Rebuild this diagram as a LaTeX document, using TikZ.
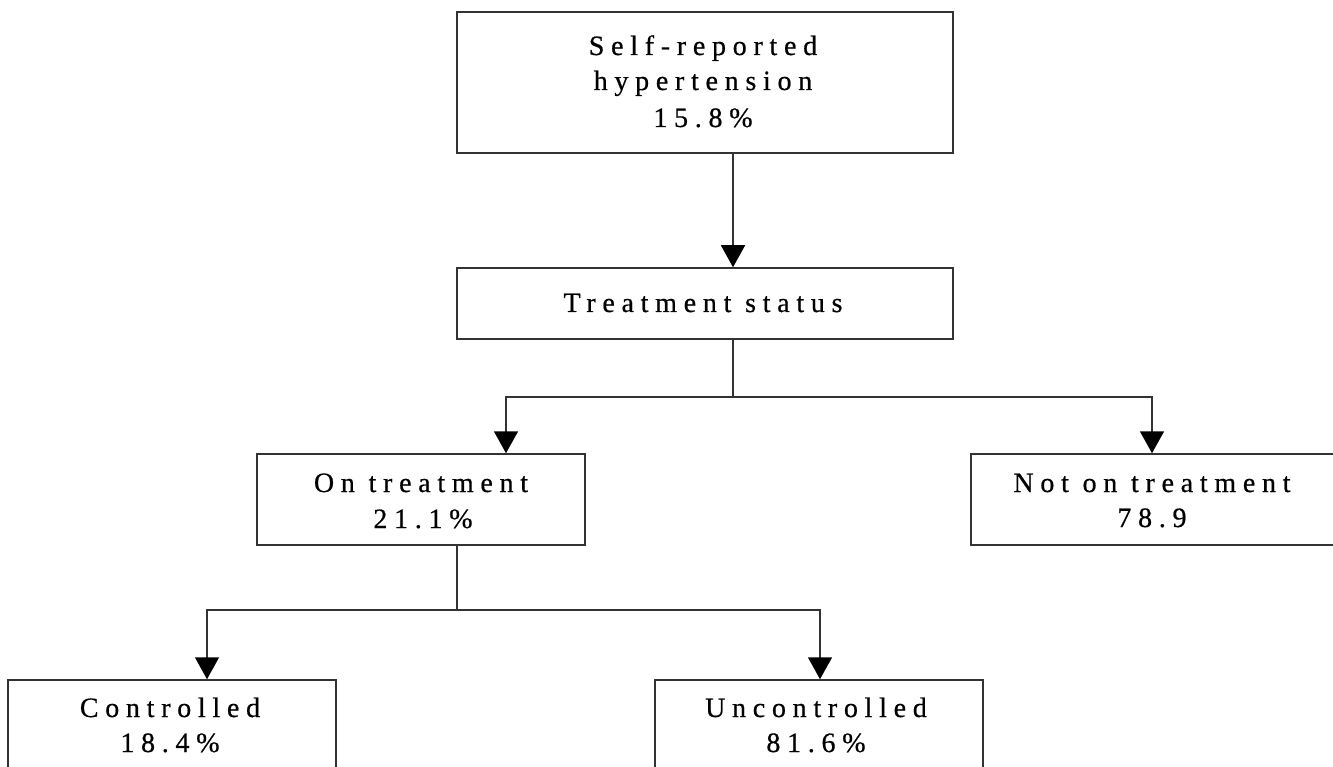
\documentclass[tikz,border=0pt]{standalone}
\usepackage{fontspec}
\setmainfont{Liberation Serif}[LetterSpace=24,FakeBold=0.6]
\usetikzlibrary{arrows.meta}
\begin{document}
\begin{tikzpicture}[x=1pt,y=-1pt,
  box/.style={draw=black!80,line width=1.5pt,inner sep=0pt},
  txt/.style={anchor=base,inner sep=0pt,font=\fontsize{28}{36}\selectfont},
  conn/.style={draw=black!80,line width=1.5pt},
  arr/.style={conn,-{Triangle[width=24pt,length=22pt,black]}}]
\useasboundingbox (0,0) rectangle (1333,767);
\clip (0,0) rectangle (1333,767);
% boxes
\node[box,minimum width=496pt,minimum height=141pt] (top) at (705,82.5) {};
\node[box,minimum width=496pt,minimum height=71pt] (ts) at (705,303.5) {};
\node[box,minimum width=328pt,minimum height=91pt] (on) at (421,499.5) {};
\node[box,minimum width=372pt,minimum height=91pt] (non) at (1157,499.5) {};
\node[box,minimum width=328pt,minimum height=120pt] (ctl) at (172,740) {};
\node[box,minimum width=328pt,minimum height=120pt] (unc) at (819,740) {};
% texts
\node[txt] (t1) at (703,55) {Self-reported};
\node[txt] (t2) at (703,90) {hypertension};
\node[txt] (t3) at (703,127) {15.8\%};
\node[txt] (t4) at (703,312) {Treatment status};
\node[txt] (t5) at (421,492) {On treatment};
\node[txt] (t6) at (423,528) {21.1\%};
\node[txt] (t7) at (1152,492) {Not on treatment};
\node[txt] (t8) at (1152,527) {78.9};
\node[txt] (t9) at (170,717) {Controlled};
\node[txt] (t10) at (170,752) {18.4\%};
\node[txt] (t11) at (816,717) {Uncontrolled};
\node[txt] (t12) at (816,752) {81.6\%};
% connectors
\draw[arr] ([xshift=28pt]top.south) -- ([xshift=28pt]ts.north);
\coordinate (j1) at (733,397);
\coordinate (j2) at (457,610);
\draw[conn] (ts.south -| j1) -- (j1);
\draw[arr] (j1) -| ([xshift=85pt]on.north);
\draw[arr] (j1) -| ([xshift=-5pt]non.north);
\draw[conn] (on.south -| j2) -- (j2);
\draw[arr] (j2) -| ([xshift=35pt]ctl.north);
\draw[arr] (j2) -| ([xshift=1pt]unc.north);
\end{tikzpicture}
\end{document}
